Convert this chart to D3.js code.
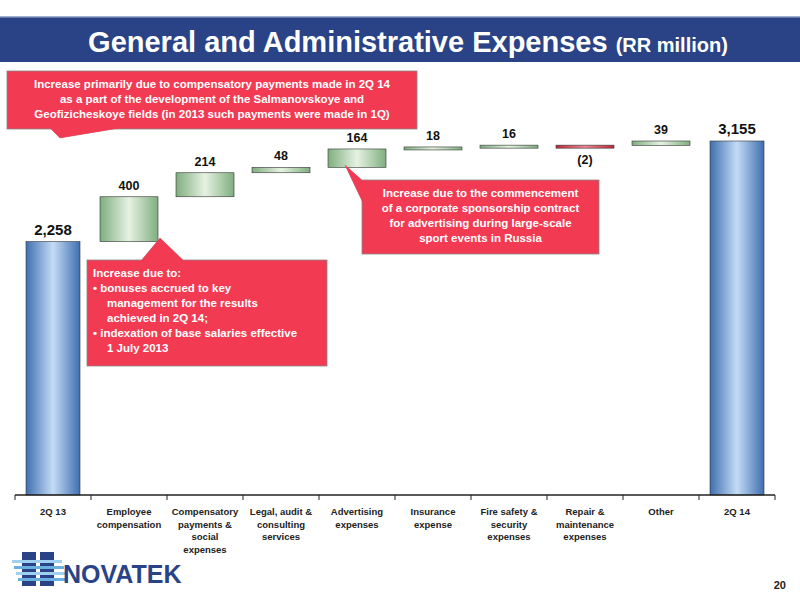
<!DOCTYPE html>
<html><head><meta charset="utf-8">
<script src="https://cdn.jsdelivr.net/npm/d3@7"></script>
<style>body{margin:0;background:#fff}text{font-family:"Liberation Sans",sans-serif}</style>
</head><body><svg id="c" width="800" height="600"></svg>
<script>
const categories=["2Q 13","Employee\ncompensation","Compensatory\npayments &\nsocial\nexpenses","Legal, audit &\nconsulting\nservices","Advertising\nexpenses","Insurance\nexpense","Fire safety &\nsecurity\nexpenses","Repair &\nmaintenance\nexpenses","Other","2Q 14"];
const values=[2258,400,214,48,164,18,16,-2,39,3155];
const labels=["2,258","400","214","48","164","18","16","(2)","39","3,155"];
const kinds=["total","d","d","d","d","d","d","d","d","total"];

const svg=d3.select("#c");
const defs=svg.append("defs");
function grad(id,edge,mid){const g=defs.append("linearGradient").attr("id",id);
 g.append("stop").attr("offset","0%").attr("stop-color",edge);
 g.append("stop").attr("offset","50%").attr("stop-color",mid);
 g.append("stop").attr("offset","100%").attr("stop-color",edge);}
grad("gb","#3f6fb0","#c4dcf5");grad("gg","#7fae7f","#e6f2e2");grad("gr","#c0283a","#f08a94");

svg.append("rect").attr("x",0).attr("y",17).attr("width",800).attr("height",45).attr("fill","#2a4386");
svg.append("rect").attr("x",0).attr("y",16).attr("width",800).attr("height",1.5).attr("fill","#9fb0d0");
const t=svg.append("text").attr("x",408).attr("y",52).attr("text-anchor","middle").attr("fill","#fff").attr("font-weight","bold");
t.append("tspan").attr("font-size",29).text("General and Administrative Expenses ");
t.append("tspan").attr("font-size",20).text("(RR million)");

const x=d3.scaleBand().domain(categories).range([15,775]).paddingInner(0).paddingOuter(0);
const y=d3.scaleLinear().domain([0,3155]).range([495,141]);

let cum=0;
const bars=values.map((v,i)=>{let a,b;
 if(kinds[i]==="total"){a=0;b=v;cum=v;} else {a=cum;b=cum+v;cum=b;}
 return {c:categories[i],a,b,v,l:labels[i],k:kinds[i]};});
const g=svg.append("g");
bars.forEach(d=>{
 const top=y(Math.max(d.a,d.b)),bot=y(Math.min(d.a,d.b));
 const h=Math.max(bot-top,3);
 const inset=d.k==="total"?11:9;
 g.append("rect").attr("x",x(d.c)+inset).attr("width",x.bandwidth()-2*inset)
  .attr("y",top).attr("height",h)
  .attr("fill",d.k==="total"?"url(#gb)":(d.v<0?"url(#gr)":"url(#gg)")).attr("stroke","#333").attr("stroke-width",0.6);
 const ly=d.v<0?bot+19:top-7;
 g.append("text").attr("x",x(d.c)+x.bandwidth()/2).attr("y",ly).attr("text-anchor","middle")
  .attr("font-size",d.k==="total"?15:12.5).attr("font-weight","bold").attr("fill","#111").text(d.l);
});
const ax=svg.append("g");
ax.append("line").attr("x1",15).attr("x2",775).attr("y1",495).attr("y2",495).attr("stroke","#222").attr("stroke-width",1.5);
categories.forEach(c=>ax.append("line").attr("x1",x(c)).attr("x2",x(c)).attr("y1",495).attr("y2",500).attr("stroke","#222"));
ax.append("line").attr("x1",775).attr("x2",775).attr("y1",495).attr("y2",500).attr("stroke","#222");
categories.forEach(c=>{c.split("\n").forEach((s,j)=>ax.append("text").attr("x",x(c)+x.bandwidth()/2).attr("y",515+j*12.5)
 .attr("text-anchor","middle").attr("font-size",9.5).attr("font-weight","bold").attr("fill","#222").text(s));});

function box(x0,y0,w,h,lines,anchor,pointer,fs){
 svg.append("path").attr("d",pointer).attr("fill","#f23a52").attr("stroke","#999").attr("stroke-width",0.5);
 svg.append("rect").attr("x",x0).attr("y",y0).attr("width",w).attr("height",h).attr("fill","#f23a52").attr("stroke","#888").attr("stroke-width",0.8);
 svg.append("path").attr("d",pointer).attr("fill","#f23a52");
 lines.forEach((l,i)=>{svg.append("text").attr("x",anchor==="middle"?x0+w/2:x0+6+(l.ind||0)).attr("y",y0+17+i*(fs+3.5))
  .attr("text-anchor",anchor).attr("font-size",fs).attr("font-weight","bold").attr("fill","#fff").text(l.t||l);});
}
box(7,71,410,58,["Increase primarily due to compensatory payments made in 2Q 14","as a part of the development of the Salmanovskoye and","Geofizicheskoye fields (in 2013 such payments were made in 1Q)"],"middle","M50,128 L120,128 L60,138 Z",11.5);
box(362,180,237,74,["Increase due to the commencement","of a corporate sponsorship contract","for advertising during large-scale","sport events in Russia"],"middle","M364,182 L364,205 L345,165 Z",11.5);
box(87,260,240,106,[{t:"Increase due to:"},{t:"•  bonuses accrued to key"},{t:"management for the results",ind:14},{t:"achieved in 2Q 14;",ind:14},{t:"•  indexation of base salaries effective"},{t:"1 July 2013",ind:14}],"start","M140,262 L185,262 L160,238 Z",11.5);

const lg=svg.append("g");
lg.append("rect").attr("x",22).attr("y",552).attr("width",14).attr("height",34).attr("fill","#2a4386");
lg.append("rect").attr("x",40).attr("y",552).attr("width",14).attr("height",34).attr("fill","#2a4386");
[560,566,572,578].forEach((yy,i)=>lg.append("rect").attr("x",12+i*2).attr("y",yy).attr("width",50).attr("height",3).attr("fill",i%2?"#6ab0e0":"#9fd0f0"));
lg.append("text").attr("x",63).attr("y",583).attr("font-size",25).attr("font-weight","bold").attr("fill","#2a4386").text("NOVATEK");
svg.append("text").attr("x",786).attr("y",589).attr("text-anchor","end").attr("font-size",11).attr("font-weight","bold").attr("fill","#222").text("20");
</script></body></html>
